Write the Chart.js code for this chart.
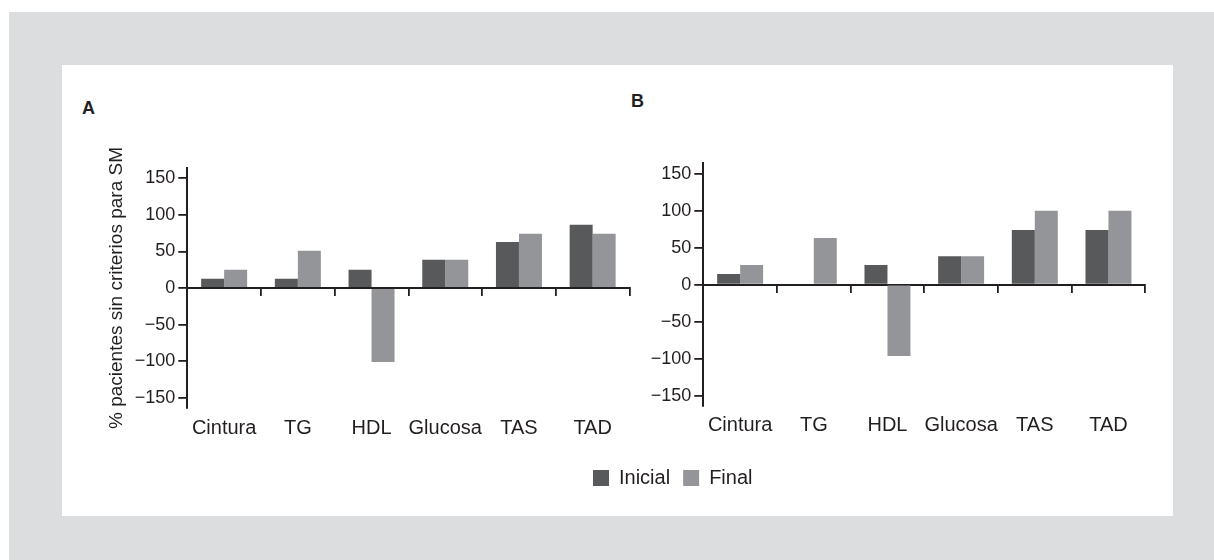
<!DOCTYPE html>
<html>
<head>
<meta charset="utf-8">
<script src="https://cdn.jsdelivr.net/npm/chart.js@4.4.0/dist/chart.umd.min.js"></script>
<style>
  body { margin: 0; width: 1214px; height: 560px; background: #fff; position: relative; overflow: hidden;
         font-family: "Liberation Sans", Arial, sans-serif; color: #231f20; }
  #frame { position: absolute; left: 9px; top: 12px; right: 0; bottom: 0; background: #dcdddf; }
  #panel { position: absolute; left: 62px; top: 65px; width: 1111px; height: 451px; background: #fff; }
  .tag { position: absolute; font-weight: bold; font-size: 18px; line-height: 18px; }
  .box { position: absolute; }
</style>
</head>
<body>
<div id="frame"></div>
<div id="panel"></div>
<div class="tag" style="left:82px;top:99.3px">A</div>
<div class="tag" style="left:631px;top:91.5px">B</div>
<div class="box" style="left:62px;top:65px;width:600px;height:400px"><canvas id="chartA"></canvas></div>
<div class="box" style="left:580px;top:65px;width:593px;height:450px"><canvas id="chartB"></canvas></div>

<script>
// data
const categories = ['Cintura', 'TG', 'HDL', 'Glucosa', 'TAS', 'TAD'];
const seriesNames = ['Inicial', 'Final'];
const inicialA = [12.5, 12.5, 25, 38.5, 63, 86.5];
const finalA = [25, 51, -101, 38.5, 74, 74];
const inicialB = [14.5, 0, 26.5, 38.5, 74, 74];
const finalB = [26.5, 63, -96.5, 38.5, 100, 100];
const yTicks = [-150, -100, -50, 0, 50, 100, 150];
const yTitle = '% pacientes sin criterios para SM';

const INK = '#231f20';
const DARK = '#58595b';
const LIGHT = '#939598';

Chart.defaults.font.family = "'Liberation Sans', Arial, sans-serif";
Chart.defaults.color = INK;

function barChart(canvasId, inicial, final, o) {
    return new Chart(document.getElementById(canvasId), {
        type: 'bar',
        data: {
            labels: categories,
            datasets: [
                {label: seriesNames[0], data: inicial, backgroundColor: DARK, borderWidth: 0, xAxisID: 'x'},
                {label: seriesNames[1], data: final, backgroundColor: LIGHT, borderWidth: 0, xAxisID: 'x'}
            ]
        },
        options: {
            responsive: true,
            maintainAspectRatio: false,
            animation: false,
            categoryPercentage: 0.624,
            barPercentage: 1,
            layout: {padding: o.padding},
            scales: {
                // axis line drawn at zero, ticks between categories
                x: {
                    type: 'category',
                    position: {y: 0},
                    offset: true,
                    grid: {offset: true, drawOnChartArea: false, tickLength: 7, color: INK, lineWidth: 1.8},
                    border: {color: INK, width: 2},
                    ticks: {display: false}
                },
                // category names under the plot
                x2: {
                    type: 'category',
                    position: 'bottom',
                    offset: true,
                    grid: {display: false, drawTicks: false},
                    border: {display: false},
                    ticks: {color: INK, font: {size: 20}, padding: o.labelPad, maxRotation: 0, autoSkip: false},
                    afterFit: s => { s.height = o.labelRoom; }
                },
                y: {
                    min: -164,
                    max: 164,
                    afterFit: s => { s.width = o.yWidth; },
                    afterBuildTicks: s => { s.ticks = yTicks.map(v => ({value: v})); },
                    grid: {drawOnChartArea: false, tickLength: 9, color: INK, lineWidth: 1.8},
                    border: {color: INK, width: 2},
                    ticks: {
                        padding: 3,
                        color: INK,
                        font: {size: 18},
                        callback: v => v < 0 ? '\u2212' + Math.abs(v) : String(v)
                    },
                    title: {
                        display: o.showTitle,
                        text: yTitle,
                        color: INK,
                        font: {size: 19},
                        padding: {top: 43.6, bottom: 0}
                    }
                }
            },
            plugins: {
                legend: o.legend,
                tooltip: {enabled: false}
            }
        }
    });
}

barChart('chartA', inicialA, finalA, {
    padding: {top: 103, right: 32.5, bottom: 27, left: 0},
    labelRoom: 30,
    labelPad: 8,
    yWidth: 125.3,
    showTitle: true,
    legend: {display: false}
});

barChart('chartB', inicialB, finalB, {
    padding: {top: 98.3, right: 27.7, bottom: 17, left: 0},
    labelRoom: 49,
    labelPad: 7,
    yWidth: 123.3,
    showTitle: false,
    legend: {
        display: true,
        position: 'bottom',
        align: 'start',
        labels: {font: {size: 20}, color: INK, boxWidth: 16, boxHeight: 16, padding: 13}
    }
});
</script>
</body>
</html>
